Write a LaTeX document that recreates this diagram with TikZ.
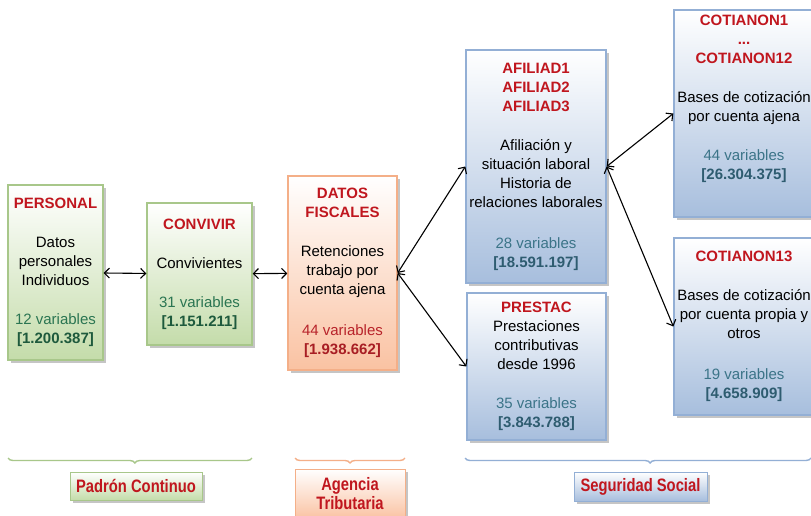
\documentclass[tikz,border=0pt]{standalone}
\usepackage{fontspec}
\setmainfont{Liberation Sans}
\newfontfamily\narrowfont[FakeStretch=0.82]{Liberation Sans}
\usepackage{xcolor}
\usetikzlibrary{shadows, arrows.meta, decorations.pathreplacing}

\definecolor{titlered}{HTML}{C0161E}
\definecolor{greenline}{HTML}{A8C78A}
\definecolor{greenfill}{HTML}{C4DCAA}
\definecolor{greentext}{HTML}{2A7552}
\definecolor{greennum}{HTML}{1E5A3D}
\definecolor{orangeline}{HTML}{F4AF88}
\definecolor{orangefill}{HTML}{FAC2A2}
\definecolor{orangetext}{HTML}{B8232A}
\definecolor{orangenum}{HTML}{A81E24}
\definecolor{blueline}{HTML}{93AFD5}
\definecolor{bluefill}{HTML}{A7BEDD}
\definecolor{bluetext}{HTML}{3B7488}
\definecolor{bluenum}{HTML}{2E5C70}

\newcommand{\boxtitle}[1]{\textcolor{titlered}{\textbf{#1}}}
\newcommand{\varcount}[3]{\textcolor{#1text}{#2}\\\textcolor{#1num}{\textbf{#3}}}

\begin{document}
\begin{tikzpicture}[x=1pt,y=-1pt,
    filebox/.style={rectangle,draw=#1line,line width=1.3pt,top color=white,bottom color=#1fill,
        drop shadow={shadow xshift=3pt,shadow yshift=-3pt,fill=black!45},
        align=center,inner sep=2pt,font=\fontsize{15}{19}\selectfont},
    sourcebox/.style={filebox=#1,line width=1pt,text=titlered,font=\narrowfont\bfseries\fontsize{18}{19}\selectfont},
    link/.style={{Straight Barb[length=5pt,width=10pt]}-{Straight Barb[length=5pt,width=10pt]},line width=1.1pt},
    sourcebrace/.style={draw=#1line,line width=1.4pt,decorate,decoration={brace,mirror,amplitude=5pt}}]
    \useasboundingbox (0,0) rectangle (811,516);
    \clip (0,0) rectangle (811,516);
    \fill[white] (0,0) rectangle (811,516);

    \node[filebox=green,minimum width=95,minimum height=175] (personal) at (55.5,272.5)
        {\boxtitle{PERSONAL}\\[20pt]Datos\\personales\\Individuos\\[20pt]\varcount{green}{12 variables}{[1.200.387]}};
    \node[filebox=green,minimum width=105,minimum height=142] (convivir) at (199.5,274)
        {\boxtitle{CONVIVIR}\\[20pt]Convivientes\\[20pt]\varcount{green}{31 variables}{[1.151.211]}};
    \node[filebox=orange,minimum width=109,minimum height=194] (fiscales) at (342.5,273)
        {\boxtitle{DATOS}\\\boxtitle{FISCALES}\\[20pt]Retenciones\\trabajo por\\cuenta ajena\\[22pt]\varcount{orange}{44 variables}{[1.938.662]}};
    \node[filebox=blue,minimum width=140,minimum height=233] (afiliad) at (536,166.5)
        {\boxtitle{AFILIAD1}\\\boxtitle{AFILIAD2}\\\boxtitle{AFILIAD3}\\[20pt]Afiliación y\\situación laboral\\Historia de\\relaciones laborales\\[22pt]\varcount{blue}{28 variables}{[18.591.197]}};
    \node[filebox=blue,minimum width=139,minimum height=147] (prestac) at (536.5,366.5)
        {\boxtitle{PRESTAC}\\Prestaciones\\contributivas\\desde 1996\\[20pt]\varcount{blue}{35 variables}{[3.843.788]}};
    \node[filebox=blue,minimum width=140,minimum height=207] (cotiajena) at (744,113.5)
        {\boxtitle{COTIANON1}\\\boxtitle{...}\\\boxtitle{COTIANON12}\\[20pt]Bases de cotización\\por cuenta ajena\\[20pt]\varcount{blue}{44 variables}{[26.304.375]}\\[14pt]};
    \node[filebox=blue,minimum width=140,minimum height=177] (cotipropia) at (744,326.5)
        {\boxtitle{COTIANON13}\\[20pt]Bases de cotización\\por cuenta propia y\\otros\\[22pt]\varcount{blue}{19 variables}{[4.658.909]}};

    \draw[link] (personal) -- (convivir);
    \draw[link] (convivir) -- (fiscales);
    \draw[link] (fiscales.east) -- (afiliad.west);
    \draw[link] (fiscales.east) -- (prestac.west);
    \draw[link] (afiliad.east) -- (cotiajena.west);
    \draw[link] (afiliad.east) -- (cotipropia.west);

    \draw[sourcebrace=green,decoration={aspect=0.52}] (8,458) -- (252,458);
    \draw[sourcebrace=orange] (295,458) -- (405,458);
    \draw[sourcebrace=blue,decoration={aspect=0.535}] (465,458) -- (811,458);

    \node[sourcebox=green,minimum width=132,minimum height=28] (padron) at (136,486) {Padrón Continuo};
    \node[sourcebox=orange,minimum width=110,minimum height=50] (agencia) at (350,494) {Agencia\\Tributaria};
    \node[sourcebox=blue,minimum width=133,minimum height=29] (seguridad) at (640.5,486.5) {Seguridad Social};
\end{tikzpicture}
\end{document}
